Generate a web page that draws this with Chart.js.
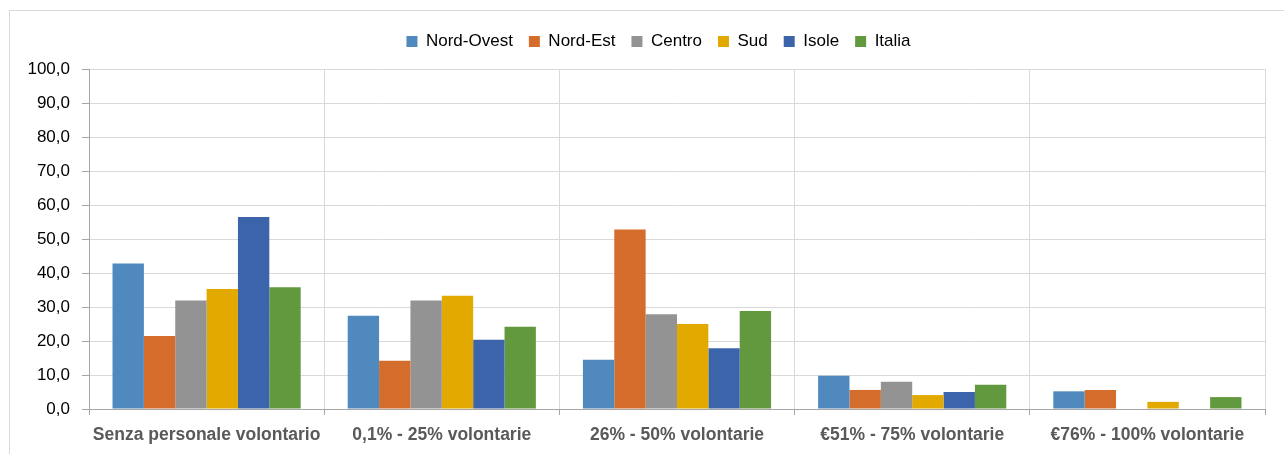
<!DOCTYPE html>
<html lang="it">
<head>
  <meta charset="UTF-8" />
  <title>Personale volontario per ripartizione</title>
  <script src="https://cdn.jsdelivr.net/npm/chart.js"></script>
  <style>
    body {
      margin: 0;
      background: #fff;
      overflow: hidden;
      font-family: "Liberation Sans", Arial, sans-serif;
    }

    .frame {
      position: absolute;
      left: 9px;
      top: 10px;
      width: 1400px;
      height: 600px;
      border: 1px solid #d9d9d9;
    }

    .wrap {
      position: absolute;
      left: 0;
      top: 0;
      width: 1284px;
      height: 454px;
    }
  </style>
</head>
<body>
  <div class="frame"></div>
  <div class="wrap">
    <canvas id="barChart"></canvas>
  </div>

  <script>
    const categories = [
      "Senza personale volontario",
      "0,1% - 25% volontarie",
      "26% - 50% volontarie",
      "€51% - 75% volontarie",
      "€76% - 100% volontarie"
    ];

    const nordOvest = [42.8, 27.4, 14.5, 9.8, 5.2];
    const nordEst   = [21.5, 14.2, 52.8, 5.6, 5.6];
    const centro    = [31.9, 31.9, 27.9, 8.0, 0];
    const sud       = [35.3, 33.3, 25.0, 4.1, 2.1];
    const isole     = [56.5, 20.4, 17.9, 5.0, 0];
    const italia    = [35.8, 24.2, 28.8, 7.1, 3.5];

    const yTicks = [0, 10, 20, 30, 40, 50, 60, 70, 80, 90, 100];

    const series = [
      { label: "Nord-Ovest", data: nordOvest, color: "#4f89bd" },
      { label: "Nord-Est", data: nordEst, color: "#d46d2b" },
      { label: "Centro", data: centro, color: "#939393" },
      { label: "Sud", data: sud, color: "#e2aa00" },
      { label: "Isole", data: isole, color: "#3c64ab" },
      { label: "Italia", data: italia, color: "#62993e" }
    ];

    // taller legend box so the plot starts lower, and legend nudged right
    const legendSpace = {
      id: "legendSpace",
      afterInit(chart) {
        const lg = chart.legend;
        const fit = lg.fit;
        lg.fit = function () {
          fit.call(this);
          this.height += 9;
        };
      },
      afterLayout(chart) {
        chart.legend.left += 26;
        chart.legend.right += 26;
      }
    };

    const ctx = document.getElementById("barChart").getContext("2d");
    new Chart(ctx, {
      type: "bar",
      data: {
        labels: categories,
        datasets: series.map(s => ({
          label: s.label,
          data: s.data,
          backgroundColor: s.color,
          borderWidth: 0,
          categoryPercentage: 0.8,
          barPercentage: 1.0
        }))
      },
      options: {
        responsive: true,
        maintainAspectRatio: false,
        animation: false,
        layout: {
          padding: { left: 0, right: 19, top: 17, bottom: 0 }
        },
        plugins: {
          tooltip: { enabled: false },
          legend: {
            position: "top",
            labels: {
              boxWidth: 11,
              boxHeight: 11,
              padding: 16,
              color: "#000",
              font: { family: "'Liberation Sans', Arial", size: 17 }
            }
          }
        },
        scales: {
          x: {
            afterFit: axis => { axis.height = 45; },
            grid: {
              offset: true,
              color: "#d9d9d9",
              tickColor: "#a6a6a6",
              tickLength: 6
            },
            border: { color: "#a6a6a6", width: 1 },
            ticks: {
              color: "#595959",
              padding: 10,
              maxRotation: 0,
              font: { family: "'Liberation Sans', Arial", size: 17.5, weight: "bold" }
            }
          },
          y: {
            min: 0,
            max: 100,
            afterFit: axis => { axis.width = 89; },
            afterBuildTicks: axis => {
              axis.ticks = yTicks.map(v => ({ value: v }));
            },
            grid: {
              color: "#d9d9d9",
              tickColor: "#a6a6a6",
              tickLength: 7
            },
            border: { color: "#a6a6a6", width: 1 },
            ticks: {
              color: "#000",
              padding: 12,
              font: { family: "'Liberation Sans', Arial", size: 17 },
              callback: v => v.toFixed(1).replace(".", ",")
            }
          }
        }
      },
      plugins: [legendSpace]
    });
  </script>
</body>
</html>
